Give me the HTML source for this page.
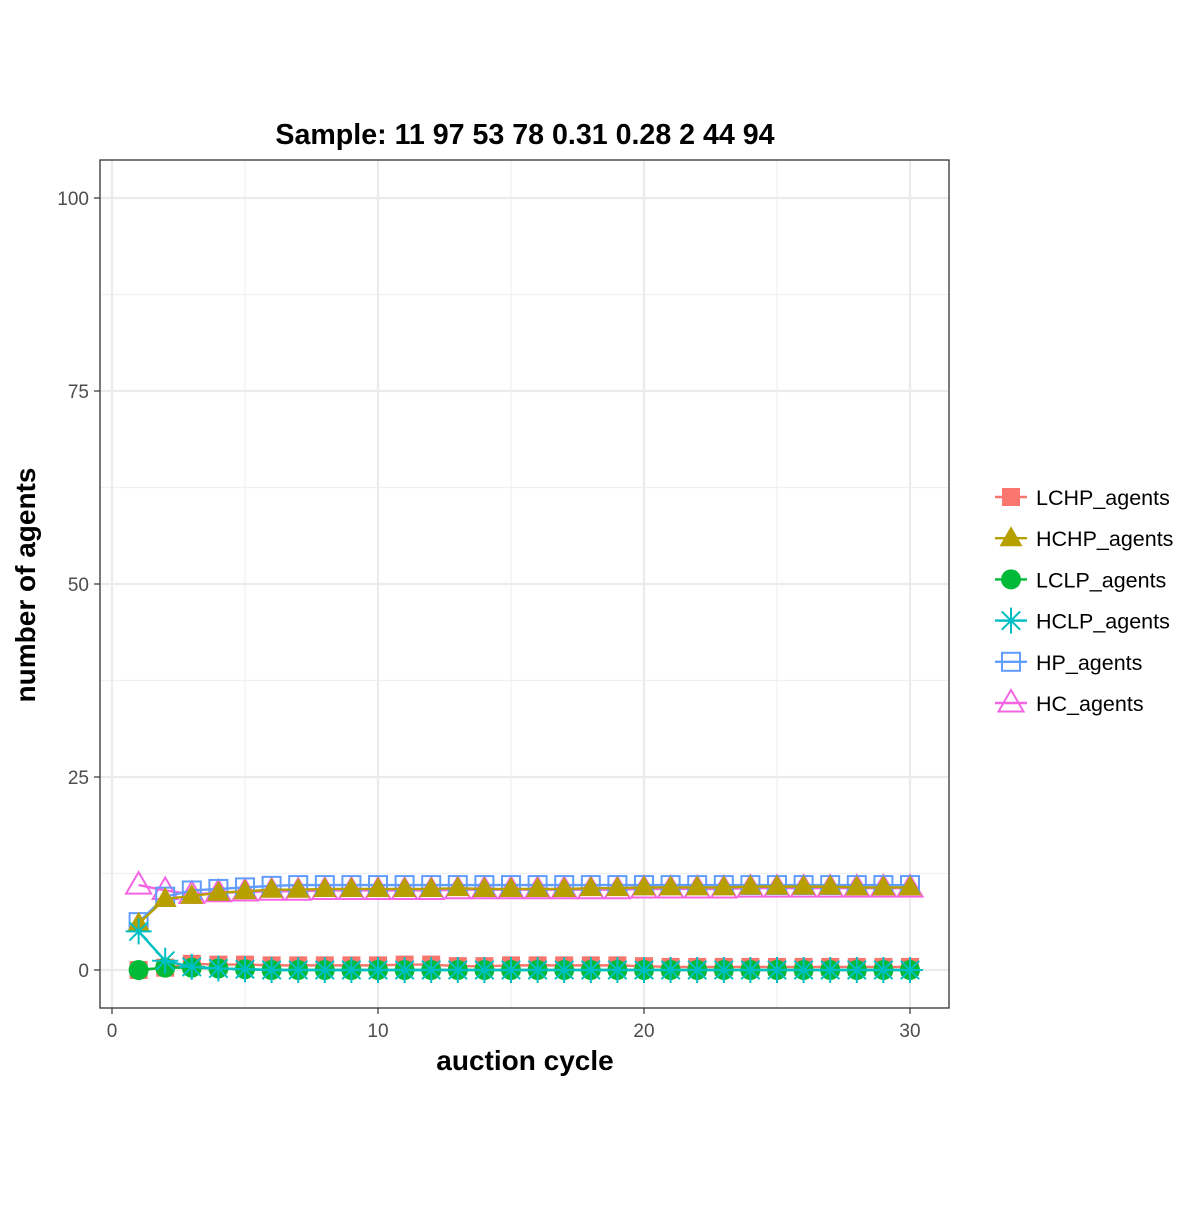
<!DOCTYPE html>
<html><head><meta charset="utf-8"><style>
body{margin:0;background:#fff;font-family:"Liberation Sans",sans-serif;}
</style></head><body>
<svg id="chart" width="1200" height="1200" xmlns="http://www.w3.org/2000/svg">
<rect width="1200" height="1200" fill="#fff"/>
<text x="525" y="144" text-anchor="middle" font-size="28.6" font-weight="bold">Sample: 11 97 53 78 0.31 0.28 2 44 94</text>
<g id="grid"></g>
<g id="series"></g>
<rect x="100" y="160" width="849" height="848" fill="none" stroke="#333" stroke-width="1.3"/>
<g id="axes" font-size="19" fill="#4d4d4d"></g>
<text x="525" y="1070" text-anchor="middle" font-size="28" font-weight="bold">auction cycle</text>
<text transform="translate(35,585) rotate(-90)" text-anchor="middle" font-size="28" font-weight="bold">number of agents</text>
<g id="legend" font-size="21.5"></g>
</svg>
<script>
const cycles=[1,2,3,4,5,6,7,8,9,10,11,12,13,14,15,16,17,18,19,20,21,22,23,24,25,26,27,28,29,30];
const seriesNames=["LCHP_agents","HCHP_agents","LCLP_agents","HCLP_agents","HP_agents","HC_agents"];
const LCHP=[0,0.3,0.8,0.7,0.7,0.6,0.6,0.6,0.6,0.6,0.7,0.7,0.5,0.5,0.6,0.6,0.6,0.6,0.6,0.5,0.4,0.4,0.4,0.4,0.4,0.4,0.4,0.4,0.4,0.4];
const HCHP=[6,9.2,9.6,10,10.2,10.4,10.4,10.5,10.5,10.5,10.5,10.5,10.6,10.5,10.5,10.5,10.5,10.6,10.6,10.7,10.7,10.7,10.7,10.8,10.8,10.8,10.8,10.7,10.7,10.7];
const LCLP=[0,0.3,0.3,0.2,0.1,0,0,0,0,0,0,0,0,0,0,0,0,0,0,0,0,0,0,0,0,0,0,0,0,0];
const HCLP=[5,1.2,0.4,0.2,0.1,0,0,0,0,0,0,0,0,0,0,0,0,0,0,0,0,0,0,0,0,0,0,0,0,0];
const HP=[6.2,9.5,10.3,10.5,10.7,10.9,11,11,11,11,11,11,11,11,11,11,11,11,11,11,11,11,11,11,11,11,11,11,11,11];
const HC=[11,10.3,9.8,10,10.1,10.2,10.2,10.3,10.3,10.3,10.3,10.3,10.4,10.4,10.4,10.4,10.4,10.4,10.4,10.5,10.5,10.5,10.5,10.6,10.6,10.6,10.6,10.6,10.6,10.6];
const xTicks=[0,10,20,30];
const yTicks=[0,25,50,75,100];
const colors=["#F8766D","#B79F00","#00BA38","#00BFC4","#619CFF","#F564E3"];
const shapes=["square","triangleFill","circle","star","squareOpen","triangleOpen"];
const data=[LCHP,HCHP,LCLP,HCLP,HP,HC];
const drawOrder=[5,4,1,0,2,3];
const X=v=>112+v*(910-112)/30;
const Y=v=>970-v*(970-198)/100;
const NS="http://www.w3.org/2000/svg";
function mk(tag,attrs,parent){const e=document.createElementNS(NS,tag);for(const k in attrs)e.setAttribute(k,attrs[k]);parent.appendChild(e);return e;}
const grid=document.getElementById('grid'),axes=document.getElementById('axes'),ser=document.getElementById('series'),leg=document.getElementById('legend');
for(let i=0;i<xTicks.length-1;i++){const m=(xTicks[i]+xTicks[i+1])/2;const l=mk('line',{x1:X(m),x2:X(m),y1:160,y2:1008,stroke:'#f0f0f0','stroke-width':1.2},grid);

}
for(let i=0;i<yTicks.length-1;i++){const m=(yTicks[i]+yTicks[i+1])/2;const l=mk('line',{x1:100,x2:949,y1:Y(m),y2:Y(m),stroke:'#f0f0f0','stroke-width':1.2},grid);

}
xTicks.forEach(t=>{const l=mk('line',{x1:X(t),x2:X(t),y1:160,y2:1008,stroke:'#ebebeb','stroke-width':2.2},grid);


const tk=mk('line',{x1:X(t),x2:X(t),y1:1008,y2:1014,stroke:'#333','stroke-width':1.2},axes);


const tx=mk('text',{x:X(t),y:1037,'text-anchor':'middle'},axes);tx.textContent=t;

});
yTicks.forEach(t=>{const l=mk('line',{x1:100,x2:949,y1:Y(t),y2:Y(t),stroke:'#ebebeb','stroke-width':2.2},grid);


const tk=mk('line',{x1:94,x2:100,y1:Y(t),y2:Y(t),stroke:'#333','stroke-width':1.2},axes);


const tx=mk('text',{x:89,y:Y(t)+7,'text-anchor':'end'},axes);tx.textContent=t;

});
function marker(shape,x,y,c,p){const s=9;
if(shape==='square')return mk('rect',{x:x-s,y:y-s,width:2*s,height:2*s,fill:c},p);
if(shape==='squareOpen')return mk('rect',{x:x-s,y:y-s,width:2*s,height:2*s,fill:'none',stroke:c,'stroke-width':2},p);
if(shape==='circle')return mk('circle',{cx:x,cy:y,r:s+1,fill:c},p);
if(shape==='triangleFill')return mk('polygon',{points:`${x},${y-12} ${x-11.5},${y+8} ${x+11.5},${y+8}`,fill:c},p);
if(shape==='triangleOpen')return mk('polygon',{points:`${x},${y-13} ${x-12.5},${y+8.5} ${x+12.5},${y+8.5}`,fill:'none',stroke:c,'stroke-width':2},p);
const g=mk('g',{stroke:c,'stroke-width':2},p);
for(let a=0;a<4;a++){const an=a*Math.PI/4;mk('line',{x1:x-13*Math.cos(an),y1:y-13*Math.sin(an),x2:x+13*Math.cos(an),y2:y+13*Math.sin(an)},g);}
return g;}
drawOrder.forEach(si=>{const arr=data[si];const g=mk('g',{},ser);


const pl=mk('polyline',{points:arr.map((v,i)=>X(cycles[i])+','+Y(v)).join(' '),fill:'none',stroke:colors[si],'stroke-width':2.4},g);


arr.forEach((v,i)=>{const m=marker(shapes[si],X(cycles[i]),Y(v),colors[si],g);

});});
seriesNames.forEach((nm,si)=>{
const ly=497+si*41.2;const lg=mk('g',{},leg);


mk('line',{x1:995,x2:1027,y1:ly,y2:ly,stroke:colors[si],'stroke-width':2.4},lg);
marker(shapes[si],1011,ly,colors[si],lg);
const t=mk('text',{x:1036,y:ly+8,fill:'#000'},lg);t.textContent=nm;

});
</script>
</body></html>
